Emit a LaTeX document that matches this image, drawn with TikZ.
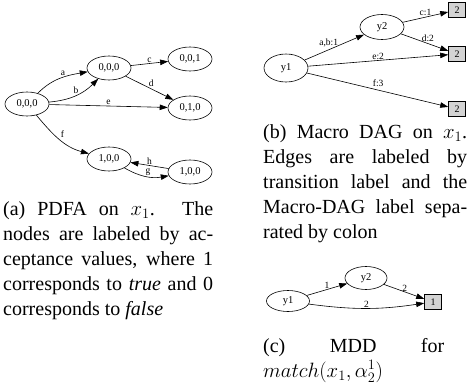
\documentclass[tikz,border=0pt]{standalone}
\usepackage{fontspec}
\setmainfont{Liberation Serif}
\usetikzlibrary{positioning,arrows.meta,shapes.geometric}
\definecolor{leafgrey}{HTML}{D3D3D3}
\tikzset{
  state/.style={draw,ellipse,minimum width=44pt,minimum height=24pt,inner sep=0pt,line width=0.6pt,font=\fontsize{10.5}{11}\selectfont},
  leaf/.style={draw,fill=leafgrey,minimum width=17pt,minimum height=15pt,inner sep=0pt,line width=0.6pt,font=\fontsize{10}{11}\selectfont},
  edge/.style={-{Triangle[length=8pt,width=5.5pt]},line width=0.6pt},
  elbl/.style={font=\fontsize{9.5}{10}\selectfont,inner sep=1pt},
  captext/.style={inner sep=0pt,anchor=base west,font=\fontsize{20}{25}\selectfont}}
\begin{document}
\begin{tikzpicture}[x=1pt,y=1pt]
\useasboundingbox (0,0) rectangle (467,-389);
% (a) PDFA
\node[state] (s0) at (27,-104) {0,0,0};
\node[state] (s1) at (109,-68) {0,0,0};
\node[state] (s2) at (190,-59) {0,0,1};
\node[state] (s3) at (190,-108) {0,1,0};
\node[state] (s4) at (109,-159) {1,0,0};
\node[state] (s5) at (190,-172) {1,0,0};
\draw[edge] (s0) to[out=45,in=190] node[elbl,above,pos=.55] {a} (s1);
\draw[edge] (s0) to[out=5,in=225] node[elbl,above,pos=.5] {b} (s1);
\draw[edge] (s1) -- node[elbl,above] {c} (s2);
\draw[edge] (s1) -- node[elbl,above right=0pt and -2pt] {d} (s3);
\draw[edge] (s0) -- node[elbl,above] {e} (s3);
\draw[edge] (s0) to[out=-50,in=165] node[elbl,above right,pos=.5] {f} (s4);
\draw[edge] (s5) -- node[elbl,above] {h} (s4);
\draw[edge] (s4) to[out=-30,in=190] node[elbl,above,pos=.55] {g} (s5);
% (b) Macro DAG
\node[state,minimum height=28pt] (y1) at (286,-68) {y1};
\node[state,minimum height=25pt] (y2) at (382,-27) {y2};
\node[leaf] (l1) at (457,-10) {2};
\node[leaf] (l2) at (457,-54) {2};
\node[leaf] (l3) at (457,-109) {2};
\draw[edge] (y1) -- node[elbl,above left=-1pt and -5pt] {a,b:1} (y2);
\draw[edge] (y2) -- node[elbl,above] {c:1} (l1);
\draw[edge] (y2) -- node[elbl,above right=-1pt and -4pt] {d:2} (l2);
\draw[edge] (y1) -- node[elbl,above] {e:2} (l2);
\draw[edge] (y1) -- node[elbl,above right=2pt and -6pt] {f:3} (l3);
% (c) MDD
\node[state,minimum width=43pt,minimum height=21pt] (m1) at (288,-301) {y1};
\node[state,minimum width=42pt,minimum height=23pt] (m2) at (366,-278) {y2};
\node[leaf] (ml) at (433,-302) {1};
\draw[edge] (m1) -- node[elbl,above] {1} (m2);
\draw[edge] (m2) -- node[elbl,above right=-1pt and -3pt] {2} (ml);
\draw[edge] (m1) to[bend right=8] node[elbl,above] {2} (ml);
% captions
\node[captext] (capa) at (3,-215) {\parbox[t]{210pt}{(a) PDFA on $x_1$. The\linebreak nodes are labeled by ac-\linebreak ceptance values, where 1\linebreak corresponds to \emph{true} and 0\linebreak corresponds to \emph{false}}};
\node[captext] (capb) at (263,-138) {\parbox[t]{204pt}{(b) Macro DAG on $x_1$.\linebreak Edges are labeled by\linebreak transition label and the\linebreak Macro-DAG label sepa-\linebreak rated by colon}};
\node[captext] (capc) at (263,-352) {\parbox[t]{181pt}{(c) MDD for\linebreak $match(x_1,\alpha_2^1)$}};
\end{tikzpicture}
\end{document}
